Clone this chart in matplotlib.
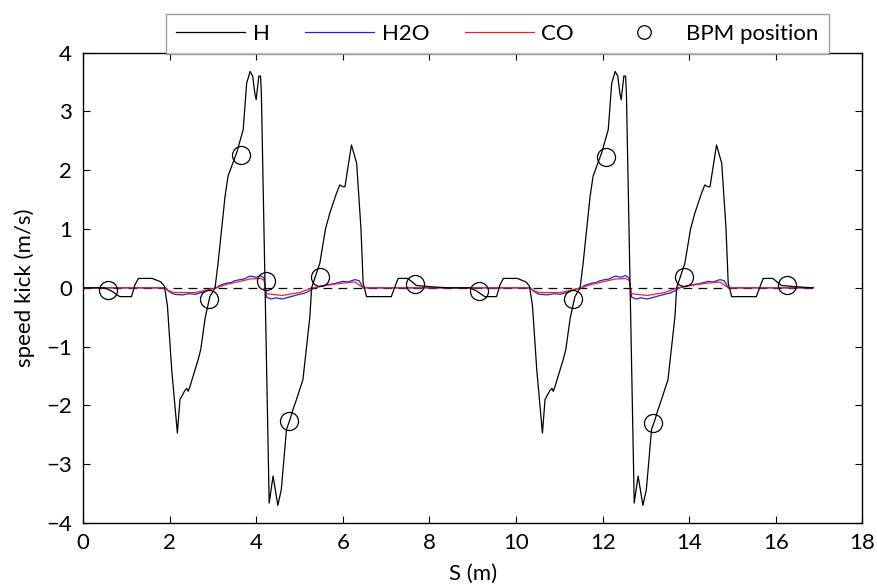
import matplotlib
matplotlib.use("Agg")
import matplotlib.pyplot as plt

plt.rcParams['font.family'] = ['Lato', 'DejaVu Sans']

# ---- data ----
h_s = [0.0, 0.5, 0.65, 0.85, 1.12, 1.2, 1.28, 1.6, 1.8, 1.88, 1.95, 2.05, 2.18, 2.24, 2.35, 2.4, 2.43, 2.47,
       2.66, 2.72, 2.82, 2.93, 3.05, 3.12, 3.28, 3.35, 3.5, 3.55, 3.7, 3.78, 3.86, 3.92, 3.97, 4.0, 4.06, 4.1,
       4.12, 4.3, 4.39, 4.5, 4.58, 4.7, 4.78, 4.85, 4.93, 5.08, 5.24, 5.28, 5.47, 5.6, 5.7, 5.85, 5.93, 6.0,
       6.05, 6.2, 6.32, 6.42, 6.47, 6.55, 7.12, 7.22, 7.28, 7.5, 7.6, 7.7, 8.0, 8.43,
       8.93, 9.08, 9.28, 9.55, 9.63, 9.71, 10.03, 10.23, 10.31, 10.38, 10.48, 10.61, 10.67, 10.78, 10.83,
       10.86, 10.9, 11.09, 11.15, 11.25, 11.36, 11.48, 11.55, 11.71, 11.78, 11.93, 11.98, 12.13, 12.21,
       12.29, 12.35, 12.4, 12.43, 12.49, 12.53, 12.55, 12.73, 12.82, 12.93, 13.01, 13.13, 13.21, 13.28,
       13.36, 13.51, 13.67, 13.71, 13.9, 14.03, 14.13, 14.28, 14.36, 14.43, 14.48, 14.63, 14.75, 14.85,
       14.9, 14.98, 15.55, 15.65, 15.71, 15.93, 16.03, 16.13, 16.43, 16.86]
h_kick = [0.0, 0.0, -0.05, -0.15, -0.15, 0.05, 0.16, 0.16, 0.1, 0.03, -0.3, -1.4, -2.47, -1.9, -1.75, -1.71,
          -1.76, -1.68, -1.22, -1.05, -0.52, -0.15, 0.0, 0.42, 1.55, 1.9, 2.2, 2.3, 2.69, 3.48, 3.68, 3.6,
          3.3, 3.2, 3.6, 3.6, 3.3, -3.66, -3.2, -3.7, -3.43, -2.41, -2.24, -2.07, -1.9, -1.56, -0.49, 0.0,
          0.42, 1.0, 1.27, 1.6, 1.75, 1.72, 1.72, 2.43, 2.12, 1.0, 0.08, -0.15, -0.15, 0.05, 0.16, 0.16,
          0.1, 0.04, 0.02, 0.0,
          0.0, -0.05, -0.15, -0.15, 0.05, 0.16, 0.16, 0.1, 0.03, -0.3, -1.4, -2.47, -1.9, -1.75, -1.71,
          -1.76, -1.68, -1.22, -1.05, -0.52, -0.15, 0.0, 0.42, 1.55, 1.9, 2.2, 2.3, 2.69, 3.48, 3.68, 3.6,
          3.3, 3.2, 3.6, 3.6, 3.3, -3.66, -3.2, -3.7, -3.43, -2.41, -2.24, -2.07, -1.9, -1.56, -0.49, 0.0,
          0.42, 1.0, 1.27, 1.6, 1.75, 1.72, 1.72, 2.43, 2.12, 1.0, 0.08, -0.15, -0.15, 0.05, 0.16, 0.16,
          0.1, 0.04, 0.02, 0.0]

h2o_s = [0.0, 1.9, 1.96, 2.1, 2.3, 2.45, 2.6, 2.78, 2.95, 3.08, 3.15, 3.32, 3.42, 3.5, 3.63, 3.72, 3.86,
         4.0, 4.09, 4.18, 4.24, 4.35, 4.45, 4.6, 4.75, 4.85, 5.0, 5.12, 5.24, 5.35, 5.5, 5.7, 5.8, 6.0,
         6.12, 6.28, 6.38, 6.47, 8.43,
         10.33, 10.39, 10.53, 10.73, 10.88, 11.03, 11.21, 11.38, 11.51, 11.58, 11.75, 11.85, 11.93, 12.06,
         12.15, 12.29, 12.43, 12.52, 12.61, 12.67, 12.78, 12.88, 13.03, 13.18, 13.28, 13.43, 13.55, 13.67,
         13.78, 13.93, 14.13, 14.23, 14.43, 14.55, 14.71, 14.81, 14.9, 16.86]
h2o_kick = [0.0, 0.0, -0.05, -0.11, -0.12, -0.1, -0.11, -0.07, -0.02, 0.0, 0.04, 0.08, 0.09, 0.12, 0.14,
            0.15, 0.2, 0.18, 0.21, 0.17, -0.16, -0.19, -0.17, -0.19, -0.16, -0.14, -0.11, -0.09, -0.05,
            0.0, 0.03, 0.06, 0.07, 0.11, 0.1, 0.14, 0.12, 0.0, 0.0,
            0.0, -0.05, -0.11, -0.12, -0.1, -0.11, -0.07, -0.02, 0.0, 0.04, 0.08, 0.09, 0.12, 0.14,
            0.15, 0.2, 0.18, 0.21, 0.17, -0.16, -0.19, -0.17, -0.19, -0.16, -0.14, -0.11, -0.09, -0.05,
            0.0, 0.03, 0.06, 0.07, 0.11, 0.1, 0.14, 0.12, 0.0, 0.0]

co_s = [0.0, 1.9, 1.96, 2.1, 2.6, 2.95, 3.08, 3.32, 3.63, 3.86, 4.1, 4.18, 4.24, 4.6, 5.0, 5.3, 5.7, 6.0,
        6.28, 6.47, 8.43,
        10.33, 10.39, 10.53, 11.03, 11.38, 11.51, 11.75, 12.06, 12.29, 12.53, 12.61, 12.67, 13.03, 13.43,
        13.73, 14.13, 14.43, 14.71, 14.9, 16.86]
co_kick = [0.0, 0.0, -0.04, -0.08, -0.08, -0.02, 0.0, 0.06, 0.11, 0.15, 0.16, 0.13, -0.1, -0.13, -0.08,
           0.0, 0.05, 0.08, 0.1, 0.0, 0.0,
           0.0, -0.04, -0.08, -0.08, -0.02, 0.0, 0.06, 0.11, 0.15, 0.16, 0.13, -0.1, -0.13, -0.08,
           0.0, 0.05, 0.08, 0.1, 0.0, 0.0]

bpm_s = [0.58, 2.91, 3.66, 4.22, 4.75, 5.47, 7.66, 9.14, 11.32, 12.07, 13.17, 13.89, 16.25]
bpm_kick = [-0.03, -0.19, 2.26, 0.11, -2.27, 0.19, 0.07, -0.06, -0.19, 2.23, -2.3, 0.19, 0.05]

zero_s = [0.0, 16.86]
zero_kick = [0.0, 0.0]

x_ticks = [0, 2, 4, 6, 8, 10, 12, 14, 16, 18]
y_ticks = [-4, -3, -2, -1, 0, 1, 2, 3, 4]

# ---- figure ----
fig = plt.figure(figsize=(8.77, 5.88), dpi=100)
ax = fig.add_axes([0.0946, 0.1105, 0.8888, 0.800])

ax.plot(zero_s, zero_kick, color='black', lw=0.9, linestyle=(0, (7, 5)), zorder=1)
l_h, = ax.plot(h_s, h_kick, color='black', lw=0.9, label='H', zorder=3)
l_w, = ax.plot(h2o_s, h2o_kick, color='#2222dd', lw=0.9, label='H2O', zorder=2)
l_c, = ax.plot(co_s, co_kick, color='#ee2233', lw=0.9, label='CO', zorder=2)
l_b, = ax.plot(bpm_s, bpm_kick, linestyle='none', marker='o', ms=13, mfc='none',
               mec='black', mew=0.9, label='BPM position', zorder=4)

ax.set_xlim(0, 18)
ax.set_ylim(-4, 4)
ax.set_xticks(x_ticks)
ax.set_yticks(y_ticks)
ax.tick_params(direction='in', top=True, right=True, length=5, width=0.8,
               labelsize=16)
ax.tick_params(axis='x', pad=7)
ax.tick_params(axis='y', pad=8)
for sp in ax.spines.values():
    sp.set_linewidth(1.0)

ax.set_xlabel('S (m)', fontsize=16, labelpad=8)
ax.set_ylabel('speed kick (m/s)', fontsize=16, labelpad=8)

leg = fig.legend(handles=[l_h, l_w, l_c, l_b], ncol=4, loc='center',
                 bbox_to_anchor=(0.567, 0.943), fontsize=16, frameon=True,
                 fancybox=False, edgecolor='#888888', handlelength=3.1,
                 handletextpad=0.35, columnspacing=1.6, borderpad=0.45,
                 markerscale=0.75)
leg.get_frame().set_linewidth(1.0)

fig.savefig('out.png', dpi=100)
